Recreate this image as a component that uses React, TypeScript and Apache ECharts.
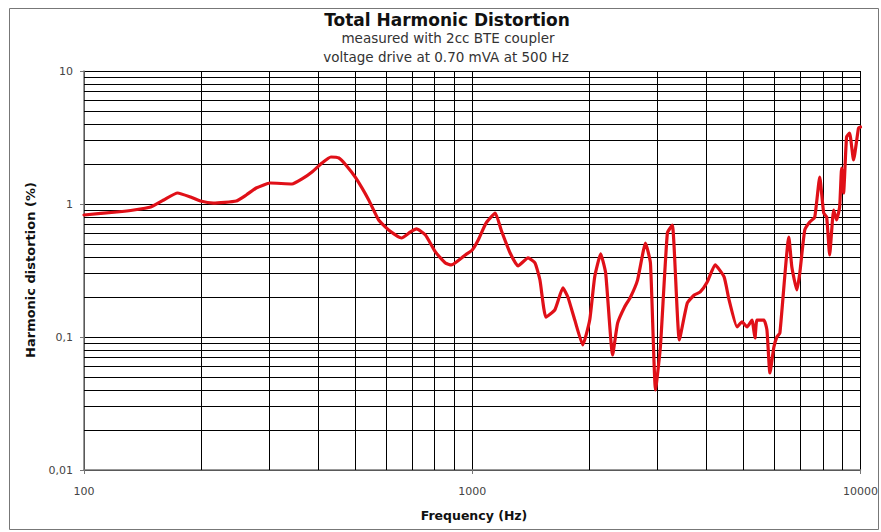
import React, { useEffect, useRef } from "react";
import * as echarts from "echarts";

const freqHz = [
  100, 121.5, 134.4, 148.5, 160.4, 174.2, 188.1, 199.5, 215.4, 246.7, 261.8, 277.7, 301.6,
  343.5, 364.4, 386.6, 410.1, 432.5, 453.4, 472.6, 501.2, 541.2, 574.1, 609, 657.5, 693.4,
  718.5, 757.7, 803.7, 852.6, 883.3, 959.6, 1000, 1036, 1086, 1146, 1187, 1252, 1312, 1392,
  1451, 1494, 1548, 1632, 1712, 1763, 1837, 1926, 2007, 2067, 2142, 2206, 2299, 2368, 2468,
  2557, 2665, 2794, 2877, 2965, 3052, 3181, 3276, 3415, 3580, 3731, 3866, 4029, 4222, 4453,
  4586, 4809, 4953, 5102, 5254, 5348, 5412, 5640, 5741, 5844, 5983, 6090, 6199, 6538, 6655,
  6855, 6977, 7185, 7400, 7623, 7852, 8038, 8182, 8328, 8527, 8679, 8836, 8940, 9045, 9207,
  9372, 9597, 9883, 10000,
];

const thdPercent = [
  0.827, 0.871, 0.901, 0.949, 1.072, 1.21, 1.129, 1.053, 1.017, 1.053, 1.169, 1.319, 1.438,
  1.414, 1.542, 1.74, 2.034, 2.256, 2.218, 1.965, 1.569, 1.072, 0.758, 0.638, 0.555, 0.616,
  0.649, 0.585, 0.436, 0.36, 0.348, 0.414, 0.451, 0.536, 0.72, 0.856, 0.638, 0.428, 0.342, 0.393,
  0.36, 0.268, 0.141, 0.16, 0.234, 0.2, 0.134, 0.0871, 0.134, 0.283, 0.421, 0.303, 0.0732, 0.127, 0.168,
  0.2, 0.268, 0.509, 0.36, 0.04, 0.0841, 0.605, 0.695, 0.0949, 0.18, 0.207, 0.218, 0.259, 0.348, 0.283,
  0.19, 0.119, 0.13, 0.119, 0.134, 0.0983, 0.134, 0.134, 0.113, 0.0536, 0.0841, 0.1, 0.107, 0.565, 0.336,
  0.226, 0.303, 0.638, 0.732, 0.798, 1.596, 0.856, 0.798, 0.414, 0.901, 0.758, 0.949, 1.865, 1.21, 3.19,
  3.419, 2.142, 3.728, 3.793,
];

const xMinorGrid = [200, 300, 400, 500, 600, 700, 800, 900, 2000, 3000, 4000, 5000, 6000, 7000, 8000, 9000];
const yMinorGrid = [
  0.02, 0.03, 0.04, 0.05, 0.06, 0.07, 0.08, 0.09,
  0.2, 0.3, 0.4, 0.5, 0.6, 0.7, 0.8, 0.9,
  2, 3, 4, 5, 6, 7, 8, 9,
];

const titleText = "Total Harmonic Distortion";
const subtitle1 = "measured with 2cc BTE coupler";
const subtitle2 = "voltage drive at 0.70 mVA at 500 Hz";
const xTitle = "Frequency (Hz)";
const yTitle = "Harmonic distortion (%)";

export default function App() {
  const ref = useRef<HTMLDivElement>(null);
  useEffect(() => {
    document.body.style.margin = "0";
    if (!ref.current) return;
    const chart = echarts.init(ref.current, null, { renderer: "svg" });
    const font = "DejaVu Sans, Verdana, sans-serif";
    const fmtY = (v: number) => {
      const s = v >= 1 ? String(Math.round(v)) : String(Number(v.toPrecision(1)));
      return s.replace(".", ",");
    };
    const fmtX = (v: number) => String(Math.round(v));
    const gridLine = { color: "#000", width: 1, type: "solid" as const };
    chart.setOption({
      animation: false,
      backgroundColor: "#ffffff",
      grid: { left: 84, right: 16, top: 71, bottom: 62, containLabel: false },
      xAxis: {
        type: "log",
        logBase: 10,
        min: 100,
        max: 10000,
        axisLine: { show: true, onZero: false, lineStyle: { color: "#777", width: 1.5 } },
        axisTick: { show: true, length: 4, lineStyle: { color: "#777" } },
        axisLabel: { fontFamily: font, fontSize: 11, color: "#444", margin: 16, formatter: fmtX },
        splitLine: { show: true, lineStyle: gridLine },
      },
      yAxis: {
        type: "log",
        logBase: 10,
        min: 0.01,
        max: 10,
        axisLine: { show: true, onZero: false, lineStyle: { color: "#777", width: 1.5 } },
        axisTick: { show: true, length: 4, lineStyle: { color: "#777" } },
        axisLabel: { fontFamily: font, fontSize: 11, color: "#444", margin: 11, formatter: fmtY },
        splitLine: { show: true, lineStyle: gridLine },
      },
      graphic: [
        {
          type: "rect",
          shape: { x: 9.5, y: 8.5, width: 869, height: 521 },
          style: { fill: "none", stroke: "#777", lineWidth: 1 },
          silent: true,
        },
        {
          type: "text",
          x: 447,
          y: 20,
          style: { text: titleText, font: "bold 17px " + font, fill: "#111", align: "center", verticalAlign: "middle" },
        },
        {
          type: "text",
          x: 448,
          y: 38,
          style: { text: subtitle1, font: "13.5px " + font, fill: "#333", align: "center", verticalAlign: "middle" },
        },
        {
          type: "text",
          x: 446,
          y: 57,
          style: { text: subtitle2, font: "13.5px " + font, fill: "#333", align: "center", verticalAlign: "middle" },
        },
        {
          type: "text",
          x: 474,
          y: 515,
          style: { text: xTitle, font: "bold 12.5px " + font, fill: "#111", align: "center", verticalAlign: "middle" },
        },
        {
          type: "text",
          x: 30,
          y: 270,
          rotation: Math.PI / 2,
          style: { text: yTitle, font: "bold 13px " + font, fill: "#111", align: "center", verticalAlign: "middle" },
        },
      ],
      series: [
        {
          type: "line",
          data: freqHz.map((f, i) => [f, thdPercent[i]]),
          showSymbol: false,
          symbol: "none",
          smooth: 0.15,
          lineStyle: { color: "#e01018", width: 3.2, join: "round", cap: "round" },
          z: 5,
          markLine: {
            silent: true,
            symbol: "none",
            label: { show: false },
            lineStyle: { color: "#000", width: 1, type: "solid" },
            z: 1,
            data: [
              ...xMinorGrid.map((v) => ({ xAxis: v })),
              ...yMinorGrid.map((v) => ({ yAxis: v })),
            ],
          },
        },
      ],
    });
    return () => chart.dispose();
  }, []);
  return <div ref={ref} style={{ width: 881, height: 532 }} />;
}
